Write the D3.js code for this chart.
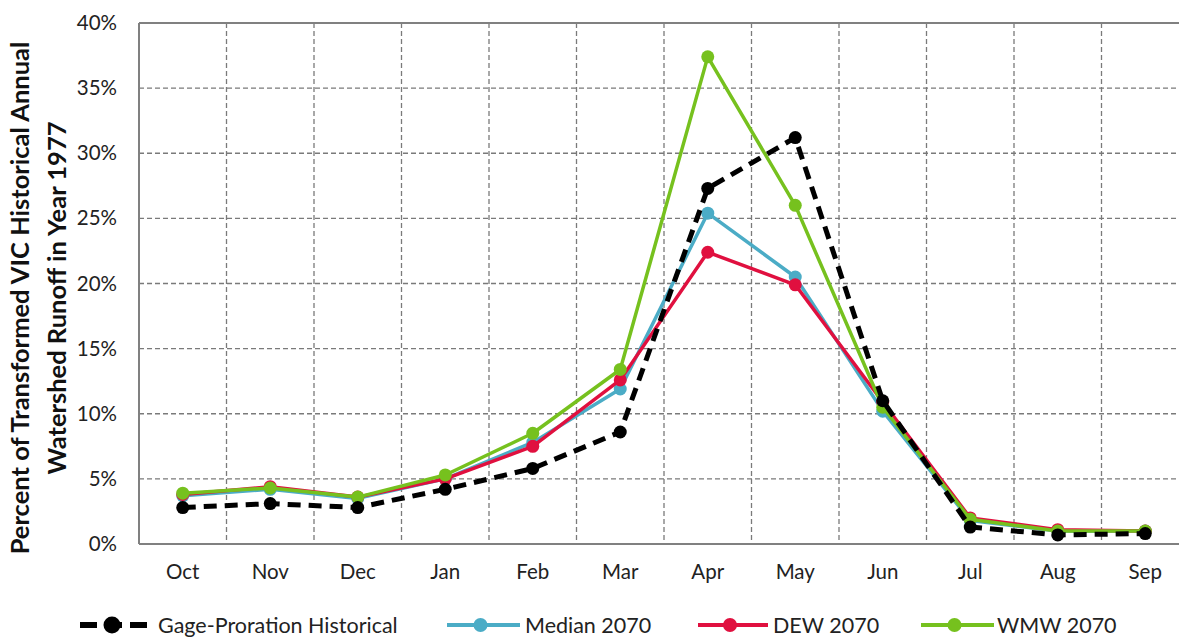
<!DOCTYPE html>
<html><head><meta charset="utf-8">
<script src="https://cdn.jsdelivr.net/npm/d3@7"></script>
<style>body{margin:0;background:#fff;overflow:hidden}svg{display:block}</style>
</head><body>
<svg id="c" width="1179" height="639"></svg>
<script>
const months = ["Oct","Nov","Dec","Jan","Feb","Mar","Apr","May","Jun","Jul","Aug","Sep"];
const gageHist = [2.8,3.1,2.8,4.2,5.8,8.6,27.3,31.2,11.0,1.3,0.7,0.8];
const median2070 = [3.7,4.2,3.5,5.0,7.8,11.9,25.4,20.5,10.2,1.8,1.0,1.0];
const dew2070 = [3.8,4.4,3.6,5.0,7.5,12.6,22.4,19.9,10.9,2.0,1.1,1.0];
const wmw2070 = [3.9,4.3,3.6,5.3,8.5,13.4,37.4,26.0,10.5,1.9,1.0,1.0];
const yTicks = [0,5,10,15,20,25,30,35,40];
const seriesNames = ["Gage-Proration Historical","Median 2070","DEW 2070","WMW 2070"];

const FONT = "Lato, 'Open Sans', sans-serif";
const svg = d3.select("#c");
const L = 139, R = 1189, T = 23, B = 544;
const x = d3.scaleBand().domain(months).range([L, R]);
const y = d3.scaleLinear().domain([0, 40]).range([B, T]);

// grid
const g = svg.append("g");
g.selectAll("line.h").data(yTicks.slice(1)).join("line")
  .attr("x1", L).attr("x2", R).attr("y1", d => y(d)).attr("y2", d => y(d))
  .attr("stroke", "#7a7a7a").attr("stroke-width", 1.3).attr("stroke-dasharray", "5,3");
g.selectAll("line.v").data(months.slice(1)).join("line")
  .attr("x1", d => x(d)).attr("x2", d => x(d)).attr("y1", T).attr("y2", B)
  .attr("stroke", "#7a7a7a").attr("stroke-width", 1.3).attr("stroke-dasharray", "5,3");
// border
svg.append("line").attr("x1", L).attr("x2", R).attr("y1", T).attr("y2", T).attr("stroke", "#808080").attr("stroke-width", 2);
svg.append("line").attr("x1", L).attr("x2", L).attr("y1", T).attr("y2", B).attr("stroke", "#808080").attr("stroke-width", 2);
svg.append("line").attr("x1", L).attr("x2", R).attr("y1", B).attr("y2", B).attr("stroke", "#808080").attr("stroke-width", 2);

// y axis
const ya = svg.append("g").attr("transform", `translate(${L},0)`)
  .call(d3.axisLeft(y).tickValues(yTicks).tickFormat(d => d + "%").tickSize(0).tickPadding(22));
ya.select(".domain").remove();
ya.selectAll("text").attr("font-family", FONT).attr("font-size", 20.5).attr("fill", "#222");

// x axis
const xa = svg.append("g").attr("transform", `translate(0,${B})`)
  .call(d3.axisBottom(x).tickSize(0).tickPadding(20));
xa.select(".domain").remove();
xa.selectAll("text").attr("font-family", FONT).attr("font-size", 20.5).attr("fill", "#222");

// y title
const yt = svg.append("text").attr("transform", "translate(29,298) rotate(-90)")
  .attr("text-anchor", "middle").attr("font-family", FONT).attr("font-weight", "bold")
  .attr("font-size", 25.5).attr("fill", "#111");
yt.append("tspan").attr("x", 0).attr("dy", 0).text("Percent of Transformed VIC Historical Annual");
yt.append("tspan").attr("x", 0).attr("dy", 37).text("Watershed Runoff in Year 1977");

const series = [
  {name: seriesNames[1], vals: median2070, color: "#4BACC6", dash: null, w: 3.5},
  {name: seriesNames[2], vals: dew2070, color: "#E0103F", dash: null, w: 3.5},
  {name: seriesNames[3], vals: wmw2070, color: "#76C11E", dash: null, w: 3.5},
  {name: seriesNames[0], vals: gageHist, color: "#000000", dash: "13,8", w: 5},
];
const line = d3.line().x((d, i) => x(months[i]) + x.bandwidth() / 2).y(d => y(d));
series.forEach(s => {
  const gs = svg.append("g");
  gs.append("path").datum(s.vals).attr("d", line).attr("fill", "none")
    .attr("stroke", s.color).attr("stroke-width", s.w)
    .attr("stroke-dasharray", s.dash).attr("stroke-linejoin", "round");
  gs.selectAll("circle").data(s.vals).join("circle")
    .attr("cx", (d, i) => x(months[i]) + x.bandwidth() / 2).attr("cy", d => y(d))
    .attr("r", 6.5).attr("fill", s.color);
});

// legend
const leg = [
  {s: series[3], x1: 80, x2: 150, tx: 158},
  {s: series[0], x1: 447, x2: 520, tx: 525},
  {s: series[1], x1: 698, x2: 768, tx: 773},
  {s: series[2], x1: 921, x2: 994, tx: 997},
];
const LY = 625;
leg.forEach(l => {
  const gl = svg.append("g");
  gl.append("line").attr("x1", l.x1).attr("x2", l.x2).attr("y1", LY).attr("y2", LY)
    .attr("stroke", l.s.color).attr("stroke-width", l.s.dash ? 6 : 4)
    .attr("stroke-dasharray", l.s.dash ? "17,8" : null);
  gl.append("circle").attr("cx", (l.x1 + l.x2) / 2 - 3).attr("cy", LY).attr("r", l.s.dash ? 8.5 : 7).attr("fill", l.s.color);
  gl.append("text").attr("x", l.tx).attr("y", LY).attr("dy", "0.35em")
    .attr("font-family", FONT).attr("font-size", 21.5).attr("fill", "#222").text(l.s.name);
});
</script>
</body></html>
